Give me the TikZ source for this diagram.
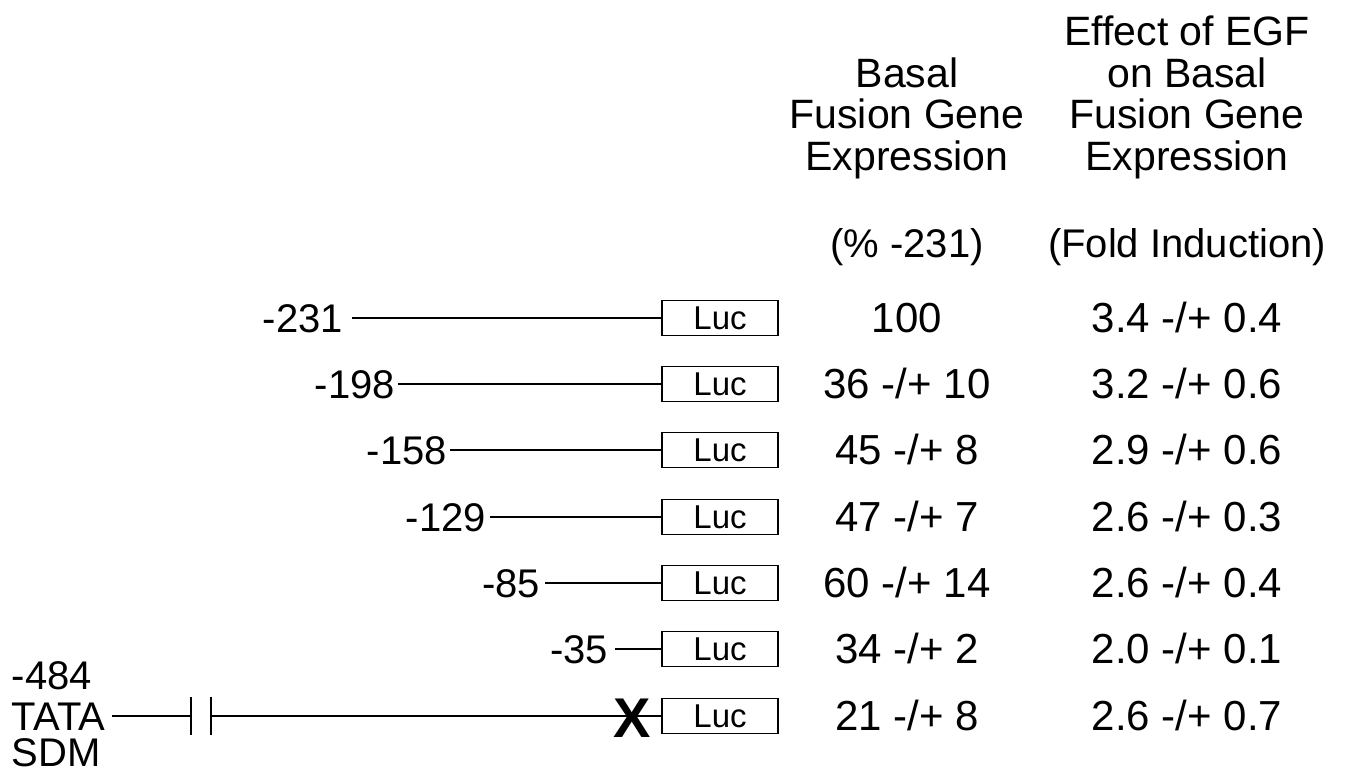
\documentclass[tikz,border=0pt]{standalone}
\usepackage{fontspec}
\setmainfont{Liberation Sans}
\begin{document}
\begin{tikzpicture}[x=1pt,y=-1pt,
  every node/.style={inner sep=0pt, outer sep=0pt},
  big/.style={font=\fontsize{40}{41}\selectfont, text height=28.8pt, text depth=0pt},
  val/.style={font=\fontsize{42}{42}\selectfont, text height=30.2pt, text depth=0pt},
  head/.style={font=\fontsize{41}{41.5}\selectfont, align=center},
  lucbox/.style={draw, line width=1.8pt, minimum width=116pt, minimum height=35pt,
                 font=\fontsize{33}{33}\selectfont, text height=23.6pt, text depth=0pt},
  wire/.style={line width=2pt}]
\useasboundingbox (0,0) rectangle (1351,773);

% column headers
\node[head, anchor=base] (h1) at (907,170) {Basal\\Fusion Gene\\Expression};
\node[head, anchor=base] (h2) at (1187,170) {Effect of EGF\\on Basal\\Fusion Gene\\Expression};
\node[big] (u1) at (907,243) {(\% -231)};
\node[big] (u2) at (1187,243) {(Fold Induction)};

% constructs: promoter end, line, reporter box
\foreach \i/\y/\xe/\g/\lab in {1/318/343/9/-231, 2/384/395/3/-198, 3/450/447/3/-158,
                               4/517/486/4/-129, 5/583/540/5/-85, 6/649/608/7/-35} {
  \node[lucbox] (luc\i) at (720,\y) {Luc};
  \node[big, anchor=east] (l\i) at (\xe,\y) {\lab};
  \draw[wire] ([xshift=\g pt]l\i.east) -- (luc\i.west);
}

% TATA site-directed mutant
\node[lucbox] (luc7) at (720,716) {Luc};
\node[big, anchor=west] (m1) at (12,675) {-484};
\node[big, anchor=west] (tata) at (12,716) {TATA};
\node[big, anchor=west] (m2) at (12,752) {SDM};
\coordinate (b1) at (191,716);
\coordinate (b2) at (211,716);
\draw[wire] ([xshift=7pt]tata.east) -- (b1);
\draw[wire] ([yshift=-19pt]b1) -- ([yshift=19pt]b1);
\draw[wire] ([yshift=-19pt]b2) -- ([yshift=19pt]b2);
\draw[wire] (b2) -- (luc7.west);
\node[font=\fontsize{56}{56}\selectfont\bfseries, text height=40pt, text depth=0pt]
  (mut) at (632,717) {X};

% basal expression values
\foreach \i/\y/\v in {1/317/{100}, 2/383/{36 -/+ 10}, 3/449/{45 -/+ 8}, 4/516/{47 -/+ 7},
                      5/582/{60 -/+ 14}, 6/648/{34 -/+ 2}, 7/715/{21 -/+ 8}}
  \node[val] (v\i) at (907,\y) {\v};

% fold induction values
\foreach \i/\y/\v in {1/317/{3.4 -/+ 0.4}, 2/383/{3.2 -/+ 0.6}, 3/449/{2.9 -/+ 0.6},
                      4/516/{2.6 -/+ 0.3}, 5/582/{2.6 -/+ 0.4}, 6/648/{2.0 -/+ 0.1},
                      7/715/{2.6 -/+ 0.7}}
  \node[val] (f\i) at (1187,\y) {\v};
\end{tikzpicture}
\end{document}
